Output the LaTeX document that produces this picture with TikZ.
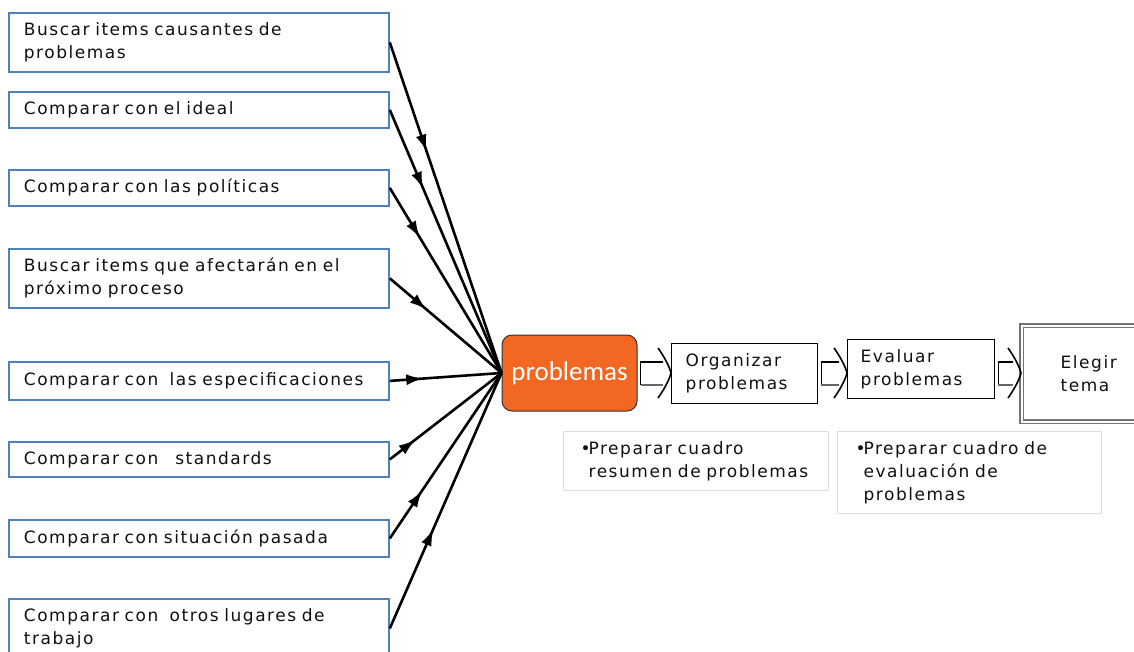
\documentclass[tikz,border=0pt]{standalone}
\usepackage{fontspec}
\setmainfont{DejaVu Sans}
\newfontfamily\labelfont[LetterSpace=9]{DejaVu Sans}
\newfontfamily\hubfont{Carlito}
\usetikzlibrary{arrows.meta,decorations.markings,calc}

\definecolor{boxblue}{RGB}{79,129,189}
\definecolor{hubfill}{RGB}{242,104,34}
\definecolor{notegray}{RGB}{222,222,222}
\definecolor{ink}{RGB}{20,15,15}

% hollow block arrow from node #1 to node #2, on the axis of the hub
\newcommand\flowarrow[2]{%
  \coordinate (tip) at (#2.west |- prob.east);
  \coordinate (tail) at (#1.east |- prob.east);
  \draw[line width=1.6pt] ($(tip)+(-8,-11)$) -- ($(tail)+(3,-11)$) -- ($(tail)+(3,12)$);
  \draw[line width=2.2pt, draw=black!60] ($(tail)+(3,12)$) -- ($(tip)+(-8,12)$);
  \draw[line width=1.6pt] ($(tip)+(-13,-25)$)
    .. controls ($(tip)+(-8,-18)$) and ($(tip)+(-2,-8)$) .. (tip)
    .. controls ($(tip)+(-2,8)$) and ($(tip)+(-8,18)$) .. ($(tip)+(-13,25)$);
}

\begin{document}
\begin{tikzpicture}[x=1pt,y=-1pt,
  txt/.style={font=\labelfont\fontsize{17}{23}\selectfont, text=ink},
  srcbox/.style={txt, draw=boxblue, line width=1.8pt, fill=white, anchor=north west,
    inner xsep=15pt, inner ysep=0pt, align=left, text width=350pt, minimum width=380pt},
  hubnode/.style={draw=black!80, line width=1pt, fill=hubfill, rounded corners=10pt,
    minimum width=135pt, minimum height=76pt, text=white,
    font=\hubfont\fontsize{27}{30}\selectfont},
  stepbox/.style={txt, draw=black, line width=1.4pt, fill=white, anchor=north west,
    inner xsep=14pt, inner ysep=0pt, align=left},
  notebox/.style={txt, draw=notegray, line width=1.2pt, fill=white, anchor=north west,
    inner ysep=0pt, align=left},
  feed/.style={line width=2.6pt, black},
  arrowat/.style={postaction={decorate, decoration={markings,
    mark=at position #1 with {\arrow{Latex[length=17pt,width=11pt]}}}}}
]
\useasboundingbox (0,0) rectangle (1134,652);

% sources on the left
\node[srcbox, minimum height=59pt] (b1) at (8,12) {Buscar items causantes de\\problemas};
\node[srcbox, minimum height=36pt] (b2) at (8,91) {Comparar con el ideal};
\node[srcbox, minimum height=36pt] (b3) at (8,169) {Comparar con las políticas};
\node[srcbox, minimum height=59pt] (b4) at (8,248) {Buscar items que afectarán en el\\próximo proceso};
\node[srcbox, minimum height=38pt] (b5) at (8,361) {Comparar con~~las especificaciones};
\node[srcbox, minimum height=35pt] (b6) at (8,441) {Comparar con~~~standards};
\node[srcbox, minimum height=37pt] (b7) at (8,519) {Comparar con situación pasada};
\node[srcbox, minimum height=59pt] (b8) at (8,598) {Comparar con~~otros lugares de\\trabajo};

% hub
\node[hubnode] (prob) at (569.5,373) {problemas};

% steps
\node[stepbox, minimum width=146pt, minimum height=60pt, text width=118pt] (org) at (671,343) {Organizar\\problemas};
\node[stepbox, minimum width=147pt, minimum height=59pt, text width=121pt, inner xsep=13pt] (eval) at (847,339) {Evaluar\\problemas};
\node[stepbox, draw=black!55, double=white, double distance=2pt, line width=1.4pt,
  minimum width=134pt, minimum height=96pt] (tema) at (1021,325) {Elegir\\tema};

% notes under the steps
\node[notebox, inner xsep=17pt, text width=231pt, minimum width=265pt, minimum height=59pt] (n1) at (563,431)
  {\makebox[8pt][l]{•}Preparar cuadro\\\hspace*{8pt}resumen de problemas};
\node[notebox, inner xsep=18pt, text width=228pt, minimum width=264pt, minimum height=82pt] (n2) at (837,431)
  {\makebox[8pt][l]{•}Preparar cuadro de\\\hspace*{8pt}evaluación de\\\hspace*{8pt}problemas};

% feeders into the hub
\draw[feed, arrowat=0.33] (b1.east) -- (prob.west);
\draw[feed, arrowat=0.30] (b2.east) -- (prob.west);
\draw[feed, arrowat=0.27] (b3.east) -- (prob.west);
\draw[feed, arrowat=0.33] (b4.east) -- (prob.west);
\draw[feed, arrowat=0.30] (b5.east) -- (prob.west);
\draw[feed, arrowat=0.23] (b6.east) -- (prob.west);
\draw[feed, arrowat=0.29] (b7.east) -- (prob.west);
\draw[feed, arrowat=0.39] (b8.east) -- (prob.west);

% process flow
\flowarrow{prob}{org}
\flowarrow{org}{eval}
\flowarrow{eval}{tema}
\end{tikzpicture}
\end{document}
